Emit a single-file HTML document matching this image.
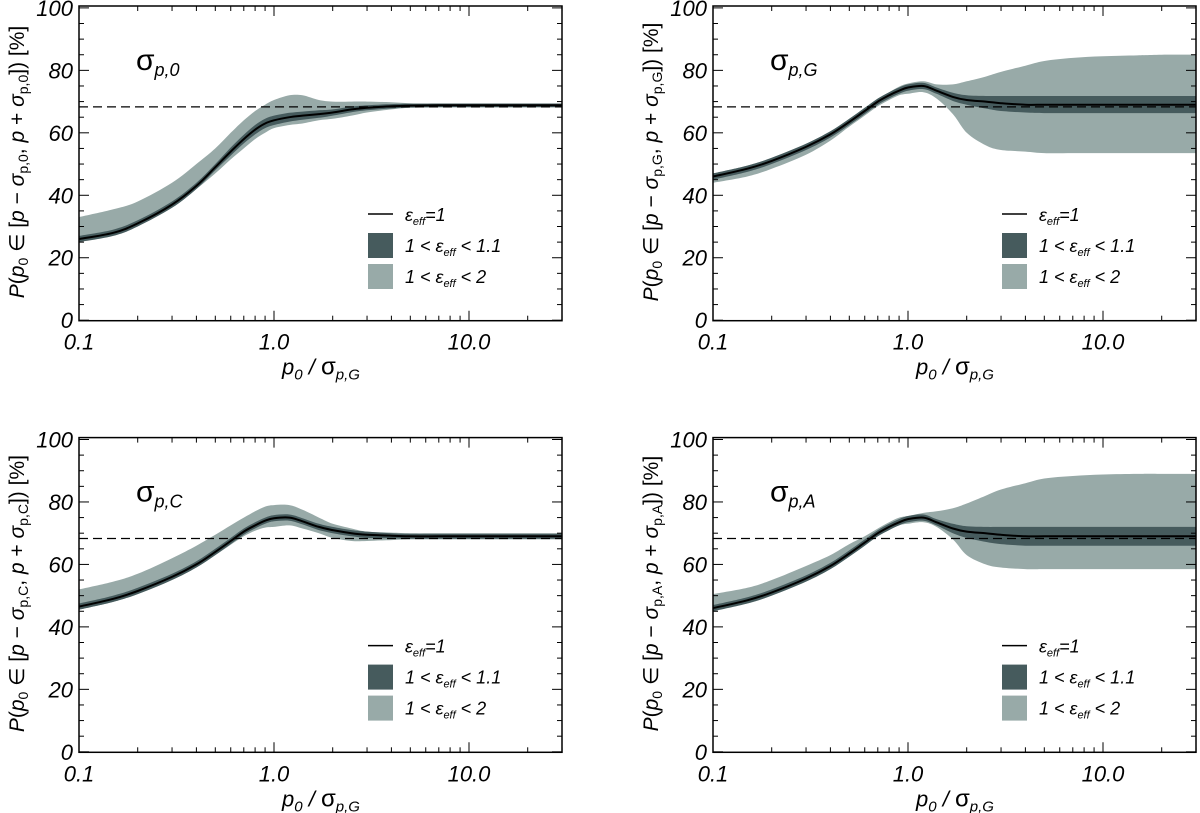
<!DOCTYPE html>
<html><head><meta charset="utf-8"><style>
html,body{margin:0;padding:0;background:#fff;}
svg{display:block;}
text{font-family:"Liberation Sans",sans-serif;}
</style></head><body>
<svg id="fig" width="1200" height="813" viewBox="0 0 1200 813" xmlns="http://www.w3.org/2000/svg"></svg>
<script>
// shared x samples (p0/sigma_pG)
const xs = [0.1,0.15,0.2,0.3,0.4,0.5,0.6,0.7,0.8,0.9,1.0,1.2,1.4,1.7,2,2.5,3,4,5,7,10,15,20,30];
// Panel A: sigma_p,0
const p0Center = [26,28,31,37,43,49,54,58,61,63,64,65,65.5,66,66.5,67.5,68,68.5,68.7,68.8,68.8,68.8,68.8,68.8];
const p0DarkLo = [25,27,30,36,42,48,52.7,56.6,59.5,61.5,62.5,63.6,64.2,64.8,65.5,66.6,67.2,67.8,68.1,68.2,68.2,68.2,68.2,68.2];
const p0DarkHi = [27,29,32,38,44,50,55.3,59.4,62.5,64.5,65.5,66.4,66.8,67.2,67.5,68.4,68.8,69.2,69.3,69.4,69.4,69.4,69.4,69.4];
const p0LightLo = [25.5,27.5,30.5,36,42,47,51.5,55,58,60,61.5,62.5,63,64,64.5,65.5,66.5,67.5,68,68.2,68.2,68.2,68.2,68.2];
const p0LightHi = [33,35.5,38,44,50,55,60,64,67,69,70.5,72,72,70.5,70,70,70,69.8,69.5,69.3,69.2,69.2,69.2,69.2];
// Panel B: sigma_p,G
const pGCenter = [46,48.5,51,55.5,59.5,63.5,67,70,72,73.5,74.5,75,73.5,71.5,70.5,70,69.5,69,69,69,69,69,69,69];
const pGDarkLo = [45,47.5,50,54.5,58.5,62.5,66,69,71,72.5,73.5,74,72.5,70.2,69,67.8,67,66.5,66.3,66.3,66.3,66.3,66.3,66.3];
const pGDarkHi = [47,49.5,52,56.5,60.5,64.5,68,71,73,74.5,75.5,76,74.5,72.8,72,71.8,71.8,71.8,71.8,71.8,71.8,71.8,71.8,71.8];
const pGLightLo = [44,46,48.5,53,57.5,62,65.5,68.5,70.5,72,72.5,73,71,66,60,56,54.5,54,53.5,53.5,53.5,53.5,53.5,53.5];
const pGLightHi = [47,49.5,52,56.5,60.5,64.5,68,71,73,74.8,75.8,76.5,75.5,75.5,76.5,78,79.5,81.5,83,84,84.5,84.8,85,85];
// Panel C: sigma_p,C
const pCCenter = [46.5,49,51.5,56,60,64,67.5,70.5,72.5,74,74.8,75,73.8,72,71,70,69.5,69.2,69,69,69,69,69,69];
const pCDarkLo = [45.5,48,50.5,55,59,63,66.5,69.5,71.5,73,73.8,74,72.8,71,70,69,68.5,68.3,68.2,68.2,68.2,68.2,68.2,68.2];
const pCDarkHi = [47.5,50,52.5,57,61,65,68.5,71.5,73.5,75,75.8,76,74.8,73,72,71,70.5,70,69.8,69.8,69.8,69.8,69.8,69.8];
const pCLightLo = [45.5,48,50.5,55,59,63,66.3,69,70.8,71.8,72,72.5,71.5,70,68.5,67.5,67.5,67.8,68,68,68,68,68,68];
const pCLightHi = [52,54.5,57,62,66,69.5,72.5,75,77,78.5,79,79,77.5,75,73,71.5,70.5,70.2,70,70,70,70,70,70];
// Panel D: sigma_p,A
const pACenter = [46,48.5,51,55.5,59.5,63.5,67,70,72,73.5,74.5,75,73.5,71.5,70.5,70,69.5,69,69,69,69,69,69,69];
const pADarkLo = [45,47.5,50,54.5,58.5,62.5,66,69,71,72.5,73.5,74,72.5,70,68.5,67.2,66.5,66,66,66,66,66,66,66];
const pADarkHi = [47,49.5,52,56.5,60.5,64.5,68,71,73,74.5,75.5,76,74.5,73,72.2,72,72,72,72,72,72,72,72,72];
const pALightLo = [45.5,47.5,50,54.5,58.5,62.5,66,69,71,72.5,73,73.5,72,68,63,60,59,58.5,58.5,58.5,58.5,58.5,58.5,58.5];
const pALightHi = [50.5,52.5,55,59.5,63,66.5,69,71.5,73.5,75,75.5,76.5,77,78,79.5,82,84,86,87.5,88.3,88.8,89,89,89];
const refLevel = 68.3;
const yTicks = [0,20,40,60,80,100];
const xTickVals = [0.1,1,10];
const xTickLabels = ["0.1","1.0","10.0"];

const NS="http://www.w3.org/2000/svg";
const svg=document.getElementById('fig');
function mk(tag,attrs,parent){const e=document.createElementNS(NS,tag);for(const k in attrs)e.setAttribute(k,attrs[k]);(parent||svg).appendChild(e);return e;}

const panels=[
 {name:'sigma-p0',ox:79,oy:0,sub:'p,0',rsub:'p,0',c:p0Center,dl:p0DarkLo,dh:p0DarkHi,ll:p0LightLo,lh:p0LightHi},
 {name:'sigma-pG',ox:713,oy:0,sub:'p,G',rsub:'p,G',c:pGCenter,dl:pGDarkLo,dh:pGDarkHi,ll:pGLightLo,lh:pGLightHi},
 {name:'sigma-pC',ox:79,oy:431.6,sub:'p,C',rsub:'p,C',c:pCCenter,dl:pCDarkLo,dh:pCDarkHi,ll:pCLightLo,lh:pCLightHi},
 {name:'sigma-pA',ox:713,oy:431.6,sub:'p,A',rsub:'p,A',c:pACenter,dl:pADarkLo,dh:pADarkHi,ll:pALightLo,lh:pALightHi}
];
const DEC=195, W=483, Y0=320.2, PPU=3.123, TOP=6;

function smooth(pts){
  let d='M'+pts[0][0].toFixed(1)+','+pts[0][1].toFixed(1);
  for(let i=0;i<pts.length-1;i++){
    const p0=pts[Math.max(i-1,0)],p1=pts[i],p2=pts[i+1],p3=pts[Math.min(i+2,pts.length-1)];
    const c1=[p1[0]+(p2[0]-p0[0])/6,p1[1]+(p2[1]-p0[1])/6];
    const c2=[p2[0]-(p3[0]-p1[0])/6,p2[1]-(p3[1]-p1[1])/6];
    d+='C'+c1[0].toFixed(1)+','+c1[1].toFixed(1)+' '+c2[0].toFixed(1)+','+c2[1].toFixed(1)+' '+p2[0].toFixed(1)+','+p2[1].toFixed(1);
  }
  return d;
}

panels.forEach(P=>{
  const g=mk('g',{});
  
  
  const L=P.ox,R=P.ox+W,B=P.oy+Y0+0.5,T=P.oy+TOP;
  const X=v=>L+DEC*(Math.log10(v)+1);
  const Y=v=>P.oy+Y0-PPU*v;
  const band=(lo,hi,col,nm)=>{
    const up=xs.map((x,i)=>[X(x),Y(hi[i])]);
    const dn=xs.map((x,i)=>[X(x),Y(lo[i])]).reverse();
    const d=smooth(up)+' L'+smooth(dn).slice(1)+'Z';
    const p=mk('path',{d:d,fill:col,stroke:'none'},g);
    
    
  };
  band(P.ll,P.lh,'#98aaa8','band-light');
  band(P.dl,P.dh,'#465b5d','band-dark');
  const cl=mk('path',{d:smooth(xs.map((x,i)=>[X(x),Y(P.c[i])])),fill:'none',stroke:'#000','stroke-width':2},g);
  
  
  const dash=mk('line',{x1:L,x2:R,y1:Y(refLevel),y2:Y(refLevel),stroke:'#000','stroke-width':1.2,'stroke-dasharray':'9,5'},g);
  
  
  const fr=mk('rect',{x:L,y:T,width:W,height:B-T,fill:'none',stroke:'#000','stroke-width':1.5},g);
  
  
  for(let v=0;v<=100;v+=5){
    const len=v%20===0?10:5;const y=Y(v);
    mk('line',{x1:L,x2:L+len,y1:y,y2:y,stroke:'#000','stroke-width':1},g);
    mk('line',{x1:R,x2:R-len,y1:y,y2:y,stroke:'#000','stroke-width':1},g);
  }
  yTicks.forEach(v=>{
    const t=mk('text',{x:L-6,y:Y(v)+8,'text-anchor':'end','font-size':22,'font-style':'italic'},g);
    t.textContent=v;
    
    
  });
  for(let e=-1;e<=1;e++)for(let m=1;m<=9;m++){
    const v=m*Math.pow(10,e);if(v>30)break;
    const len=m===1?10:5;const x=X(v);
    mk('line',{x1:x,x2:x,y1:B,y2:B-len,stroke:'#000','stroke-width':1},g);
    mk('line',{x1:x,x2:x,y1:T,y2:T+len,stroke:'#000','stroke-width':1},g);
  }
  xTickVals.forEach((v,i)=>{
    const t=mk('text',{x:X(v),y:B+29,'text-anchor':'middle','font-size':22,'font-style':'italic'},g);
    t.textContent=xTickLabels[i];
    
    
  });
  const xt=mk('text',{x:L+242,y:B+54,'text-anchor':'middle','font-size':22,'font-style':'italic'},g);
  xt.innerHTML='p<tspan font-size="15" dy="5">0</tspan><tspan dy="-5"> / </tspan><tspan font-style="normal" font-size="24">σ</tspan><tspan font-size="15" dy="5">p,G</tspan>';
  
  
  const cy=P.oy+162;
  const yt=mk('text',{x:0,y:0,transform:'translate('+(L-55)+','+cy+') rotate(-90)','text-anchor':'middle','font-size':21,'font-family':'Liberation Serif, serif'},g);
  yt.innerHTML='<tspan font-style="italic">P</tspan>(<tspan font-style="italic">p</tspan><tspan font-size="14" dy="4">0</tspan><tspan dy="-4"> ∈ [</tspan><tspan font-style="italic">p</tspan> − <tspan font-style="italic">σ</tspan><tspan font-size="14" dy="4">'+P.rsub+'</tspan><tspan dy="-4">, </tspan><tspan font-style="italic">p</tspan> + <tspan font-style="italic">σ</tspan><tspan font-size="14" dy="4">'+P.rsub+'</tspan><tspan dy="-4">]) [%]</tspan>';
  
  
  const pl=mk('text',{x:L+57,y:P.oy+70,'font-size':30},g);
  pl.innerHTML='σ<tspan font-size="18" font-style="italic" dy="6">'+P.sub+'</tspan>';
  
  
  const lg=mk('g',{},g);
  
  
  const lx=L+289;
  mk('line',{x1:lx,x2:lx+25,y1:P.oy+214,y2:P.oy+214,stroke:'#000','stroke-width':1.5},lg);
  mk('rect',{x:lx,y:P.oy+233,width:25,height:25,fill:'#465b5d'},lg);
  mk('rect',{x:lx,y:P.oy+264,width:25,height:25,fill:'#98aaa8'},lg);
  const e1=mk('text',{x:lx+37,y:P.oy+221,'font-size':18,'font-style':'italic'},lg);
  e1.innerHTML='ε<tspan font-size="11" dy="4">eff</tspan><tspan dy="-4">=1</tspan>';
  
  
  const e2=mk('text',{x:lx+37,y:P.oy+252,'font-size':18,'font-style':'italic'},lg);
  e2.innerHTML='1 &lt; ε<tspan font-size="11" dy="4">eff</tspan><tspan dy="-4"> &lt; 1.1</tspan>';
  
  
  const e3=mk('text',{x:lx+37,y:P.oy+283,'font-size':18,'font-style':'italic'},lg);
  e3.innerHTML='1 &lt; ε<tspan font-size="11" dy="4">eff</tspan><tspan dy="-4"> &lt; 2</tspan>';
  
  
});
</script>
</body></html>
